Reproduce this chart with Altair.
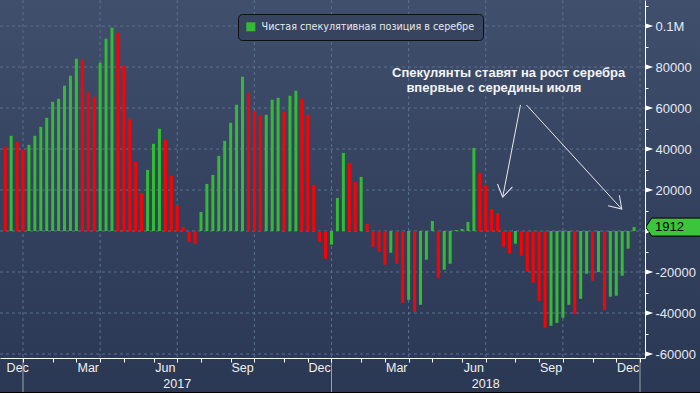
import altair as alt
import pandas as pd

# ---------------- data ----------------
values = [
    41050, 46430, 43490, 39750, 42030, 46430, 50820, 55220, 63040, 64510,
    70860, 75750, 84060, 83570, 67930, 65490, 82100, 93830, 99210, 96760,
    80640, 54730, 33720, 18570, 29810, 42520, 49850, 44470, 26880, 12710,
    1950, -5210, -6190, 9290, 22970, 27370, 36650, 43980, 52780, 61580,
    75260, 67440, 58640, 56500, 56700, 64020, 65000, 58160, 65970, 68420,
    64510, 56690, 22480, -5210, -13520, -6680, 16130, 38120, 33230, 23950,
    26390, 3420, -7660, -10100, -16450, -10590, -15960, -35020, -33560, -39420,
    -36000, -14010, 4890, -22810, -18900, -15960, 500, 980, 4400, 40560,
    28340, 22480, 10750, 8800, -7660, -10910, -6190, -12050, -19870, -25250,
    -34050, -47240, -46260, -44800, -42350, -36000, -40400, -33070, -20850, -24270,
    -20040, -38440, -32090, -31600, -21830, -8630, 1912,
]
first_week = "2016-12-13"
series_name = "Чистая спекулятивная позиция в серебре"
note_lines = ["Спекулянты ставят на рост серебра", "впервые с середины июля"]
note_dates = ["2018-07-30T00:00:00", "2018-07-12T12:00:00"]
note_values = [75300, 68000]
arrow_start_dates = ["2018-08-13T00:00:00", "2018-08-20T00:00:00"]
arrow_start_values = [61500, 61500]
arrow_end_dates = ["2018-07-23T00:00:00", "2018-12-10T12:00:00"]
arrow_end_values = [16600, 10700]
arrow_angles = [11, 317]
month_names = {12: "Dec", 3: "Mar", 6: "Jun", 9: "Sep"}
y_major = list(range(-60000, 100001, 20000))
y_minor = list(range(-60000, 110001, 10000))

GREEN = "#33bb33"
RED = "#ff0000"
BOX_GREEN = "#3cc43c"
GRID = "#5a7190"
TEXT = "#e6e9f0"

PLOT_W, PLOT_H = 645, 358   # data rectangle inside the 700x393 view

# ---------------- derived tables ----------------
dates = pd.date_range(first_week, periods=len(values), freq="7D")
direction = ["down"] + ["up" if b > a else "down" for a, b in zip(values[:-1], values[1:])]
bars = pd.DataFrame({"date": dates, "value": values, "dir": direction})

weeks = list(dates) + [dates[-1] + pd.Timedelta(days=7)]
ticks, seen = [], {(weeks[0].year, weeks[0].month)}
for d in weeks:
    if (d.year, d.month) not in seen:
        seen.add((d.year, d.month))
        ticks.append(d)

x_start = pd.Timestamp("2016-12-12 18:24")

bounds = [weeks[0] - pd.Timedelta(days=7)] + ticks
month_rows = []
for a, b in zip(bounds[:-1], bounds[1:]):
    m = weeks[0].month if a < weeks[0] else a.month
    if m in month_names:
        mid = max(a + (b - a) / 2, x_start + pd.Timedelta(days=15))
        month_rows.append({"date": mid, "label": month_names[m]})
months_df = pd.DataFrame(month_rows)

jan_ticks = [t for t in ticks if t.month == 1]
years_df = pd.DataFrame({
    "date": [a + (b - a) / 2 for a, b in zip(jan_ticks[:-1], jan_ticks[1:])],
    "label": [str(a.year) for a in jan_ticks[:-1]],
})
seps_df = pd.DataFrame({"date": jan_ticks})
quarters_df = pd.DataFrame({"date": [t for t in ticks if t.month in (1, 4, 7, 10)]})
hgrid_df = pd.DataFrame({"value": y_major})
last_df = pd.DataFrame({"date": [dates[-1]], "value": [values[-1]], "text": [str(values[-1])]})
notes_df = pd.DataFrame({"date": pd.to_datetime(note_dates), "value": note_values, "text": note_lines})
arrows_df = pd.DataFrame({
    "date": pd.to_datetime(arrow_start_dates), "value": arrow_start_values,
    "date2": pd.to_datetime(arrow_end_dates), "value2": arrow_end_values,
    "angle": arrow_angles,
})

# ---------------- scales & axes (identical in every layer) ----------------
x_scale = alt.Scale(domain=[alt.DateTime(year=2016, month=12, date=12, hours=18, minutes=24),
                            alt.DateTime(year=2019, month=1, date=1)],
                    range=[0, PLOT_W], nice=False)
y_scale = alt.Scale(domain=[-61950, 112700], range=[PLOT_H, 0], nice=False, zero=False)

label_expr = ("datum.value % 20000 === 0 && datum.value !== 0 ? "
              "(datum.value === 100000 ? '0.1M' : '' + datum.value) : ''")

x_axis = alt.Axis(
    values=[alt.DateTime(year=t.year, month=t.month, date=t.day) for t in ticks],
    labels=False, title=None, grid=False, tickColor="white", tickSize=4,
    domainColor="white", domainWidth=1, offset=PLOT_H - 393, zindex=1)
y_axis = alt.Axis(
    orient="right", values=y_minor, labelExpr=label_expr, title=None, grid=False,
    tickColor="white", tickSize=3, domainColor="white", domainWidth=1,
    labelColor=TEXT, labelFont="Liberation Sans", labelFontSize=13,
    labelPadding=7, labelOverlap=False, offset=PLOT_W - 700, zindex=1)

X = lambda f="date": alt.X(f"{f}:T", scale=x_scale, axis=x_axis)
Y = lambda f="value": alt.Y(f"{f}:Q", scale=y_scale, axis=y_axis)

bg_gradient = ("{gradient: 'linear', x1: 0, y1: 0, x2: 0, y2: 1, stops: ["
               "{offset: 0, color: '#404f6c'}, {offset: 0.5, color: '#34425f'}, "
               "{offset: 1, color: '#2b3854'}]}")

vgrid = alt.Chart(quarters_df).mark_rule(color=GRID, strokeDash=[3, 3], strokeWidth=1).encode(
    x=X(), y=alt.value(0), y2=alt.value(PLOT_H))
hgrid = alt.Chart(hgrid_df).mark_rule(color=GRID, strokeDash=[3, 3], strokeWidth=1).encode(
    y=Y(), x=alt.value(0), x2=alt.value(PLOT_W))

bar_layer = alt.Chart(bars).mark_bar(size=3).encode(
    x=X(), y=Y(),
    color=alt.Color("dir:N", scale=alt.Scale(domain=["up", "down"], range=[GREEN, RED]),
                    legend=alt.Legend(
                        values=["up"], title=None, orient="none", legendX=238, legendY=14,
                        labelExpr=f"'{series_name}'", symbolType="square", symbolSize=81,
                        symbolStrokeWidth=0, fillColor="#37445f", strokeColor="#101010",
                        cornerRadius=4, padding=8, labelOffset=6, labelLimit=500,
                        labelColor=TEXT, labelFont="DejaVu Sans", labelFontSize=9.6, zindex=1)),
)

notes = alt.Chart(notes_df).mark_text(
    font="Liberation Sans", fontWeight="bold", fontSize=13, color="#f4f4f4",
    align="center", baseline="alphabetic").encode(x=X(), y=Y(), text="text:N")

shafts = alt.Chart(arrows_df).mark_rule(color="#e8e8e8", strokeWidth=1).encode(
    x=X(), x2="date2:T", y=Y(), y2="value2:Q")
heads = alt.Chart(arrows_df).mark_point(
    shape="M-0.545,-0.839L0,0L0.545,-0.839", filled=False, stroke="#e8e8e8",
    strokeWidth=1, size=784, opacity=1).encode(
    x=X("date2"), y=Y("value2"), angle=alt.Angle("angle:Q", scale=None))

triangles = alt.Chart(hgrid_df).mark_point(
    shape="M-1,-0.66L1,0L-1,0.66Z", filled=True, color="white", strokeWidth=0,
    size=58, opacity=1).encode(x=alt.value(PLOT_W + 4.5), y=Y())

box = alt.Chart(last_df).mark_point(
    shape="M0,0L0.1034,-0.155L1,-0.155L1,0.155L0.1034,0.155Z", filled=True,
    fill=BOX_GREEN, stroke="black", strokeWidth=1, size=13456, opacity=1).encode(
    x=alt.value(PLOT_W + 0.7), y=Y())
box_text = alt.Chart(last_df).mark_text(
    align="left", baseline="middle", color="black", font="Liberation Sans",
    fontSize=13).encode(x=alt.value(PLOT_W + 10), y=Y(), text="text:N")

months = alt.Chart(months_df).mark_text(
    font="Liberation Sans", fontSize=12.5, color="#f0f0f0", baseline="middle").encode(
    x=X(), y=alt.value(PLOT_H + 10), text="label:N")
years = alt.Chart(years_df).mark_text(
    font="Liberation Sans", fontSize=12.5, color="#f0f0f0", baseline="middle").encode(
    x=X(), y=alt.value(PLOT_H + 26), text="label:N")
seps = alt.Chart(seps_df).mark_rule(color="#9aa1b2", strokeWidth=1).encode(
    x=X(), y=alt.value(PLOT_H), y2=alt.value(393))
bottom_edge = alt.Chart(alt.Data(values=[{}])).mark_rule(color="#000000", strokeWidth=1).encode(
    x=alt.value(0), x2=alt.value(700), y=alt.value(392.5))

chart = alt.layer(
    vgrid, hgrid, bar_layer, shafts, heads, notes, triangles, box, box_text,
    months, years, seps, bottom_edge,
).properties(
    width=700, height=393,
    autosize=alt.AutoSizeParams(type="none"),
    padding=0,
    background="#2b3854",
).configure_view(stroke=None, fill=alt.expr(bg_gradient))

chart.save("out.html", embed_options={"renderer": "svg", "actions": False})
